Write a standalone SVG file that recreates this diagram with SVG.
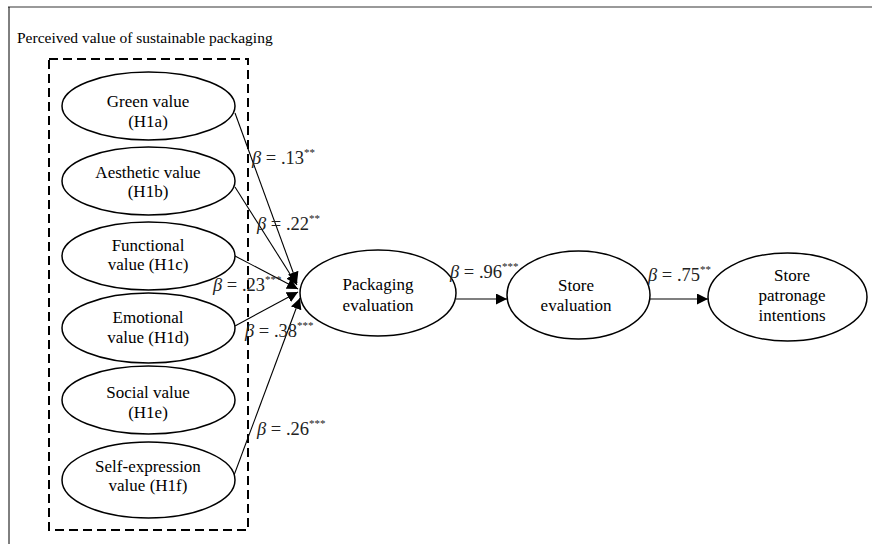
<svg xmlns="http://www.w3.org/2000/svg" width="872" height="544" viewBox="0 0 872 544">
  <style>
    .node { fill: #fff; stroke: #000; stroke-width: 1.5; }
    .lbl { font-family: "Liberation Serif", "Times New Roman", serif; font-size: 17px; fill: #000; text-anchor: middle; }
    .coef { font-family: "Liberation Serif", "Times New Roman", serif; font-size: 18.5px; fill: #222; }
    .coef .b { font-style: italic; }
    .coef .sup { font-size: 11px; }
    .edge { stroke: #000; stroke-width: 1.1; fill: none; marker-end: url(#arrow); }
    .title { font-family: "Liberation Serif", "Times New Roman", serif; font-size: 15.5px; fill: #000; }
  </style>
  <defs>
    <marker id="arrow" viewBox="0 0 10 10" refX="10" refY="5" markerWidth="11" markerHeight="11" markerUnits="userSpaceOnUse" orient="auto">
      <path d="M0,0 L10,5 L0,10 Z" fill="#000"/>
    </marker>
  </defs>
  <rect width="872" height="544" fill="#fff"/>

  <!-- outer frame (top and left edges) -->
  <line x1="8" y1="7" x2="872" y2="7" stroke="#777" stroke-width="1.5"/>
  <line x1="9" y1="7" x2="9" y2="544" stroke="#000" stroke-width="1"/>

  <text class="title" x="17" y="43">Perceived value of sustainable packaging</text>

  <!-- group boundary of the six value dimensions -->
  <rect x="49" y="59" width="199" height="471" fill="none" stroke="#000" stroke-width="2" stroke-dasharray="9 5"/>

  <!-- connectors -->
  <g id="connectors">
    <line class="edge" x1="235" y1="113" x2="297" y2="283"/>
    <line class="edge" x1="235" y1="187" x2="297" y2="285"/>
    <line class="edge" x1="235" y1="256" x2="298" y2="289"/>
    <line class="edge" x1="235" y1="326" x2="298" y2="292"/>
    <line class="edge" x1="233" y1="478" x2="300" y2="298"/>
    <line class="edge" x1="456" y1="299" x2="507" y2="299"/>
    <line class="edge" x1="650" y1="299" x2="708" y2="299"/>
  </g>

  <g id="node-green">
    <ellipse class="node" cx="148.5" cy="106" rx="86.5" ry="34"/>
    <text class="lbl" x="148" y="107">Green value</text>
    <text class="lbl" x="148" y="127">(H1a)</text>
  </g>
  <g id="node-aesthetic">
    <ellipse class="node" cx="148.5" cy="181" rx="86.5" ry="34"/>
    <text class="lbl" x="148" y="178">Aesthetic value</text>
    <text class="lbl" x="148" y="197">(H1b)</text>
  </g>
  <g id="node-functional">
    <ellipse class="node" cx="148.5" cy="256" rx="86.5" ry="34"/>
    <text class="lbl" x="148" y="251">Functional</text>
    <text class="lbl" x="148" y="270">value (H1c)</text>
  </g>
  <g id="node-emotional">
    <ellipse class="node" cx="148.5" cy="328" rx="86.5" ry="35"/>
    <text class="lbl" x="148" y="323">Emotional</text>
    <text class="lbl" x="148" y="343">value (H1d)</text>
  </g>
  <g id="node-social">
    <ellipse class="node" cx="148.5" cy="400" rx="86.5" ry="34"/>
    <text class="lbl" x="148" y="398">Social value</text>
    <text class="lbl" x="148" y="418">(H1e)</text>
  </g>
  <g id="node-self">
    <ellipse class="node" cx="148.5" cy="480" rx="86.5" ry="38"/>
    <text class="lbl" x="148" y="472">Self-expression</text>
    <text class="lbl" x="148" y="491">value (H1f)</text>
  </g>

  <g id="node-packaging">
    <ellipse class="node" cx="378" cy="293" rx="78" ry="43"/>
    <text class="lbl" x="378" y="290">Packaging</text>
    <text class="lbl" x="378" y="311">evaluation</text>
  </g>
  <g id="node-store">
    <ellipse class="node" cx="578.5" cy="295" rx="71.5" ry="44"/>
    <text class="lbl" x="576" y="291">Store</text>
    <text class="lbl" x="576" y="311">evaluation</text>
  </g>
  <g id="node-patronage">
    <ellipse class="node" cx="787.5" cy="297" rx="79.5" ry="44"/>
    <text class="lbl" x="792" y="281">Store</text>
    <text class="lbl" x="792" y="301">patronage</text>
    <text class="lbl" x="792" y="321">intentions</text>
  </g>

  <!-- path coefficients -->
  <g id="coefficients">
    <text class="coef" x="252" y="164"><tspan class="b">β</tspan> = .13<tspan class="sup" dy="-8">**</tspan></text>
    <text class="coef" x="257" y="230"><tspan class="b">β</tspan> = .22<tspan class="sup" dy="-8">**</tspan></text>
    <text class="coef" x="213" y="291"><tspan class="b">β</tspan> = .23<tspan class="sup" dy="-8">***</tspan></text>
    <text class="coef" x="245" y="337"><tspan class="b">β</tspan> = .38<tspan class="sup" dy="-8">***</tspan></text>
    <text class="coef" x="257" y="435"><tspan class="b">β</tspan> = .26<tspan class="sup" dy="-8">***</tspan></text>
    <text class="coef" x="450" y="278"><tspan class="b">β</tspan> = .96<tspan class="sup" dy="-8">***</tspan></text>
    <text class="coef" x="648" y="281"><tspan class="b">β</tspan> = .75<tspan class="sup" dy="-8">**</tspan></text>
  </g>
</svg>
